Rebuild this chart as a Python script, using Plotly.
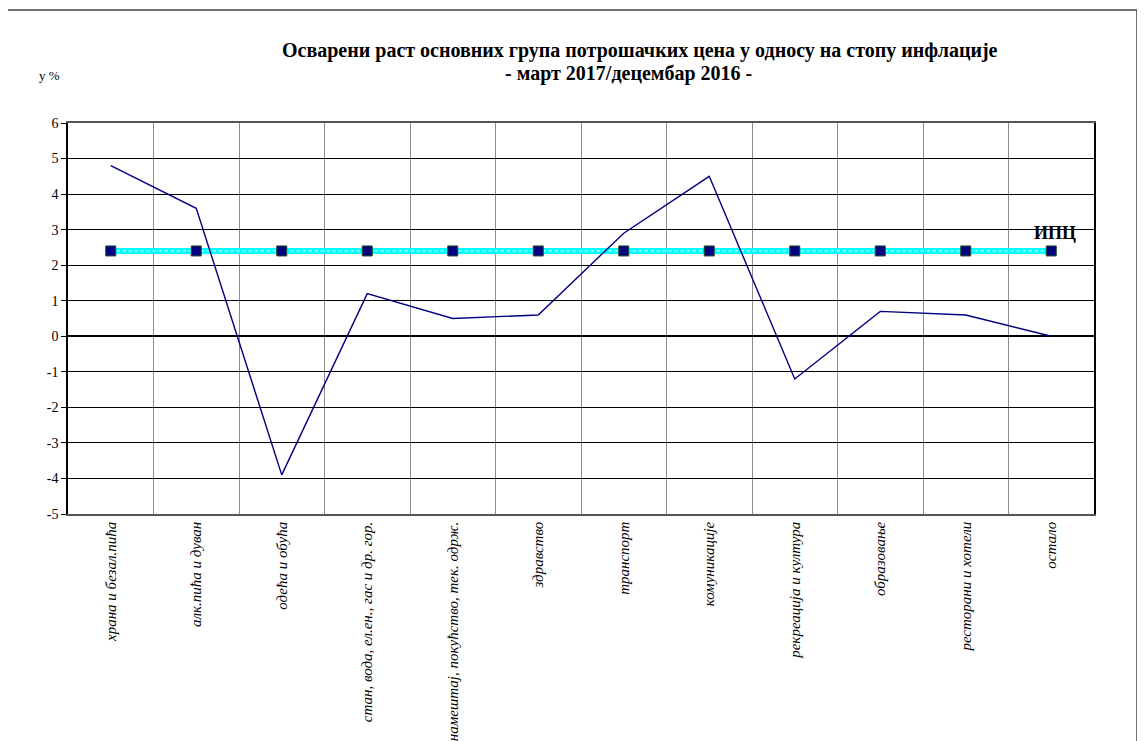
import plotly.graph_objects as go

categories = [
    "храна и безал.пића",
    "алк.пића и дуван",
    "одећа и обућа",
    "стан, вода, ел.ен., гас и др. гор.",
    "намештај, покућство, тек. одрж.",
    "здравство",
    "транспорт",
    "комуникације",
    "рекреација и култура",
    "образовање",
    "ресторани и хотели",
    "остало",
]
growth = [4.8, 3.6, -3.9, 1.2, 0.5, 0.6, 2.9, 4.5, -1.2, 0.7, 0.6, 0.0]
cpi = [2.4, 2.4, 2.4, 2.4, 2.4, 2.4, 2.4, 2.4, 2.4, 2.4, 2.4, 2.4]
y_ticks = [6, 5, 4, 3, 2, 1, 0, -1, -2, -3, -4, -5]

SERIF = "Liberation Serif, Times New Roman, serif"

# page has an 8px body margin; work in figure pixel coords
OFF = 8
W, H = 1145 - OFF, 741 - OFF
PL, PR = 68 - OFF, 1094 - OFF
PT, PB = 123 - OFF, 514 - OFF
PW, PH = PR - PL, PB - PT


def px(xp):
    return (xp - OFF - PL) / PW


def py(yp):
    return (PB - (yp - OFF)) / PH


fig = go.Figure()

fig.add_trace(go.Scatter(
    x=categories, y=cpi, mode="lines",
    line=dict(color="#00FFFF", width=6), hoverinfo="skip", showlegend=False))
fig.add_trace(go.Scatter(
    x=categories, y=cpi, mode="lines",
    line=dict(color="#E8FFFF", width=1.2, dash="dot"), hoverinfo="skip", showlegend=False))
fig.add_trace(go.Scatter(
    x=categories, y=cpi, mode="markers",
    marker=dict(symbol="square", size=10, color="#000080",
                line=dict(color="#1E4D1E", width=1)),
    showlegend=False))

fig.add_trace(go.Scatter(
    x=categories, y=growth, mode="lines",
    line=dict(color="#000080", width=1.4), showlegend=False))

fig.add_annotation(
    x=categories[-1], y=cpi[-1], text="<b>ИПЦ</b>", showarrow=False,
    xanchor="center", yanchor="bottom", xshift=4, yshift=6,
    font=dict(family=SERIF, size=18, color="black"))

fig.add_annotation(
    xref="paper", yref="paper", x=px(640), y=py(50),
    text="<b>Осварени раст основних група потрошачких цена у односу на стопу инфлације</b>",
    showarrow=False, xanchor="center", yanchor="middle",
    font=dict(family=SERIF, size=20, color="black"))
fig.add_annotation(
    xref="paper", yref="paper", x=px(628), y=py(73),
    text="<b>- март 2017/децембар 2016 -</b>",
    showarrow=False, xanchor="center", yanchor="middle",
    font=dict(family=SERIF, size=20, color="black"))

fig.add_annotation(
    xref="paper", yref="paper", x=px(49), y=py(75),
    text="у %", showarrow=False, xanchor="center", yanchor="middle",
    font=dict(family=SERIF, size=13, color="black"))

fig.add_shape(
    type="rect", xref="paper", yref="paper",
    x0=px(7), x1=px(1137), y0=py(780), y1=py(10),
    line=dict(color="#444444", width=1.5), fillcolor="rgba(0,0,0,0)")

fig.update_layout(
    width=W, height=H,
    margin=dict(l=PL, r=W - PR, t=PT, b=H - PB, autoexpand=False),
    paper_bgcolor="white", plot_bgcolor="white",
    font=dict(family=SERIF, color="black"),
    xaxis=dict(
        type="category", tickson="boundaries",
        showgrid=True, gridcolor="#8C8C8C", gridwidth=1,
        tickangle=-90, tickfont=dict(family=SERIF, size=15, style="italic"),
        showline=True, linecolor="#555555", linewidth=1.5, mirror=True,
        ticks="", range=[-0.5, 11.5], fixedrange=True, automargin=False,
    ),
    yaxis=dict(
        range=[-5, 6], tickvals=y_ticks, ticktext=[str(v) for v in y_ticks],
        showgrid=True, gridcolor="black", gridwidth=1.3,
        zeroline=True, zerolinecolor="black", zerolinewidth=1.5,
        showline=True, linecolor="black", linewidth=1.5, mirror=True,
        ticks="outside", ticklen=5, tickcolor="black",
        tickfont=dict(family=SERIF, size=14), fixedrange=True, automargin=False,
    ),
)

fig.write_html("out.html")
